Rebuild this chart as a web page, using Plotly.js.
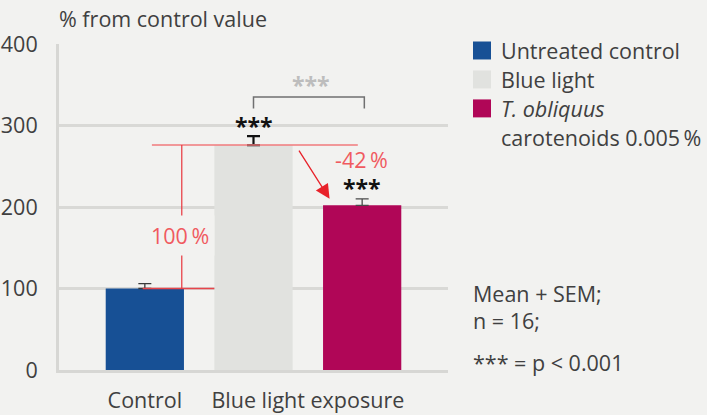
<!DOCTYPE html>
<html><head><meta charset="utf-8">
<script src="https://cdn.plot.ly/plotly-3.0.1.min.js"></script>
<style>html,body{margin:0;padding:0;background:#f2f2f0;}#chart{width:707px;height:415px;}</style>
</head><body><div id="chart"></div>
<script>
// ---- data ----
const seriesNames = ['Untreated control', 'Blue light', '<i>T. obliquus</i>'];
const seriesNamesLine2 = ['', '', 'carotenoids 0.005\u2009%'];
const means = [100, 276, 202];
const sem = [6, 11, 8];
const barColors = ['#175095', '#e1e2df', '#b00657'];
const errColors = ['#3a3a3a', '#111111', '#4a4a4a'];
const errWidths = [1.3, 2.2, 1.3];
const tickLabels = ['Control', 'Blue light exposure'];
const tickPositions = [0, 1.5];
const yTicks = [0, 100, 200, 300, 400];
const reductionLabel = '-42\u2009%';
const increaseLabel = '100\u2009%';
const sigLabel = '***';
const notes = ['Mean + SEM;', 'n = 16;', '*** = p < 0.001'];
const yTitle = '% from control value';

// ---- layout helpers ----
const W = 707, H = 415;
const M = {l: 59, r: 259, t: 43.5, b: 45};
const pw = W - M.l - M.r, ph = H - M.t - M.b;
const px = x => (x - M.l) / pw;
const py = y => (H - M.b - y) / ph;
const font = 'Open Sans, sans-serif';
const txt = '#404040';
const FS = 21.5;

const traces = means.map((m, i) => ({
  type: 'bar',
  x: [i], y: [m],
  width: 0.72,
  marker: {color: barColors[i], line: {width: 0}},
  error_y: {type: 'data', symmetric: false, array: [sem[i]], arrayminus: [0],
            color: errColors[i], thickness: errWidths[i], width: 6.5},
  showlegend: false, hoverinfo: 'skip'
}));

const shapes = [
  {type: 'line', xref: 'x', yref: 'y', x0: 0.065, x1: 1.96, y0: means[1], y1: means[1],
   line: {color: '#f07a7d', width: 1.6}, layer: 'above'},
  {type: 'line', xref: 'x', yref: 'y', x0: -0.02, x1: 0.64, y0: means[0], y1: means[0],
   line: {color: '#e8454b', width: 1.3}, layer: 'above'},
  {type: 'line', xref: 'x', yref: 'y', x0: 0.34, x1: 0.34, y0: means[0], y1: means[1],
   line: {color: '#e8353c', width: 1.2}, layer: 'above'},
  {type: 'path', xref: 'x', yref: 'y',
   path: `M 1 321 L 1 335 L 2.02 335 L 2.02 321`,
   line: {color: '#707070', width: 1.5}, layer: 'above'}
];

const legendY = [50, 79, 108];
legendY.forEach((cy, i) => {
  shapes.push({type: 'rect', xref: 'paper', yref: 'paper',
    x0: px(473), x1: px(491), y0: py(cy + 9), y1: py(cy - 9),
    fillcolor: barColors[i], line: {width: 0}});
});

const starFont = {family: font, size: 23, color: '#111'};
const annotations = [
  {xref: 'paper', yref: 'paper', x: px(57), y: py(18), xanchor: 'left', yanchor: 'middle',
   text: yTitle, showarrow: false, font: {family: font, size: FS, color: txt}},
  {xref: 'x', yref: 'y', x: 0.32, y: 165, text: increaseLabel, showarrow: false,
   bgcolor: '#f2f2f0', borderpad: 5, font: {family: font, size: FS, color: '#f05a5f'}},
  {xref: 'x', yref: 'y', x: 1.99, y: 258, text: reductionLabel, showarrow: false,
   font: {family: font, size: FS, color: '#f05a5f'}},
  {xref: 'x', yref: 'y', x: 1.70, y: 210, ax: 1.41, ay: 271, axref: 'x', ayref: 'y',
   text: '', showarrow: true, arrowhead: 2, arrowsize: 2.2, arrowwidth: 1.3, arrowcolor: '#e8222a'},
  {xref: 'x', yref: 'y', x: 1, y: 296, yanchor: 'middle', yshift: 3, text: '<b>' + sigLabel + '</b>', showarrow: false,
   font: starFont},
  {xref: 'x', yref: 'y', x: 2, y: 220, yanchor: 'middle', yshift: 3, text: '<b>' + sigLabel + '</b>', showarrow: false,
   font: starFont},
  {xref: 'x', yref: 'y', x: 1.53, y: 353, yanchor: 'middle', yshift: -3, text: '<b>' + sigLabel + '</b>', showarrow: false,
   font: {family: font, size: 23, color: '#bdbdbd'}}
];
seriesNames.forEach((n, i) => {
  annotations.push({xref: 'paper', yref: 'paper', x: px(499), y: py(legendY[i]), xanchor: 'left', yanchor: 'middle',
    text: n, showarrow: false, font: {family: font, size: FS, color: txt}});
  if (seriesNamesLine2[i]) annotations.push({xref: 'paper', yref: 'paper', x: px(499), y: py(legendY[i] + 29),
    xanchor: 'left', yanchor: 'middle', text: seriesNamesLine2[i], showarrow: false,
    font: {family: font, size: FS, color: txt}});
});
const noteY = [293, 320, 362];
notes.forEach((n, i) => annotations.push({xref: 'paper', yref: 'paper', x: px(471), y: py(noteY[i]),
  xanchor: 'left', yanchor: 'middle', text: n, showarrow: false, font: {family: font, size: FS, color: txt}}));

const layout = {
  width: W, height: H, margin: M,
  paper_bgcolor: '#f2f2f0', plot_bgcolor: '#f2f2f0',
  font: {family: font, size: FS, color: txt},
  barmode: 'overlay',
  xaxis: {range: [-0.79, 2.79], tickvals: tickPositions, ticktext: tickLabels, showgrid: false,
          zeroline: false, showline: true, linecolor: '#d7d7d4', linewidth: 3, ticks: '',
          ticklabelstandoff: 9, fixedrange: true},
  yaxis: {range: [0, 400], tickvals: yTicks, showgrid: true, gridcolor: '#d9d9d6', gridwidth: 3,
          zeroline: false, showline: true, linecolor: '#d7d7d4', linewidth: 3, ticks: '',
          ticklabelstandoff: 14, fixedrange: true},
  shapes: shapes, annotations: annotations, showlegend: false
};
Plotly.newPlot('chart', traces, layout, {displayModeBar: false, staticPlot: true});
</script></body></html>
